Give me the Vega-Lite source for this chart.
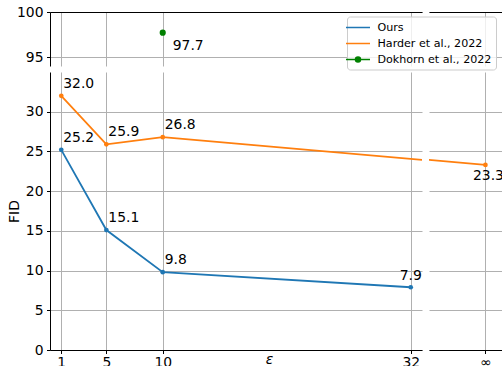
{
  "$schema": "https://vega.github.io/schema/vega-lite/v6.json",
  "padding": {"left": 7, "top": 5, "right": 0, "bottom": 0},
  "datasets": {
    "d": [
      {"series": "Ours", "eps": 1, "fid": 25.2},
      {"series": "Ours", "eps": 5, "fid": 15.1},
      {"series": "Ours", "eps": 10, "fid": 9.8},
      {"series": "Ours", "eps": 32, "fid": 7.9},
      {"series": "Harder et al., 2022", "eps": 1, "fid": 32.0},
      {"series": "Harder et al., 2022", "eps": 5, "fid": 25.9},
      {"series": "Harder et al., 2022", "eps": 10, "fid": 26.8},
      {"series": "Harder et al., 2022", "eps": 38, "fid": 23.3},
      {"series": "Dokhorn et al., 2022", "eps": 10, "fid": 97.7}
    ]
  },
  "data": {"name": "d"},
  "bounds": "flush",
  "columns": 2,
  "spacing": {"row": 6, "column": 7},
  "concat": [
    {
      "width": 372, "height": 54,
      "encoding": {
        "x": {"field": "eps", "type": "quantitative", "scale": {"domain": [0, 33], "nice": false, "zero": false},
              "axis": {"orient": "top", "values": [1, 5, 10, 32], "labels": false, "ticks": false, "domain": true, "grid": true, "title": null}},
        "y": {"field": "fid", "type": "quantitative", "scale": {"domain": [94, 100], "nice": false, "zero": false},
              "axis": {"orient": "left", "values": [95, 100], "grid": true, "domain": true, "ticks": true, "labels": true, "title": null, "labelPadding": 3.5}}
      },
      "layer": [
        {"mark": {"type": "point", "filled": true, "opacity": 0, "clip": true},
         "encoding": {
           "color": {"field": "series", "type": "nominal",
             "scale": {"domain": ["Ours", "Harder et al., 2022", "Dokhorn et al., 2022"], "range": ["#1f77b4", "#ff7f0e", "#008000"]},
             "legend": {"orient": "none", "legendX": 297, "legendY": 4.5, "title": null, "direction": "vertical",
               "labelFont": "DejaVu Sans", "labelFontSize": 11.1, "labelColor": "#000", "labelOffset": 12.5,
               "symbolSize": 144, "symbolStrokeWidth": 1.5, "symbolOpacity": 1,
               "encode": {"symbols": {"update": {"fill": {"scale": "color", "field": "value"}, "stroke": {"scale": "color", "field": "value"}, "opacity": {"value": 1}}}}}},
           "shape": {"field": "series", "type": "nominal",
             "scale": {"domain": ["Ours", "Harder et al., 2022", "Dokhorn et al., 2022"],
                       "range": ["M-2,0H2", "M-2,0H2", "M-2,0H2M0.42,0A0.42,0.42,0,1,1,-0.42,0A0.42,0.42,0,1,1,0.42,0Z"]},
             "legend": {"orient": "none", "legendX": 297, "legendY": 4.5, "title": null, "direction": "vertical",
               "labelFont": "DejaVu Sans", "labelFontSize": 11.1, "labelColor": "#000", "labelOffset": 12.5,
               "symbolSize": 144, "symbolStrokeWidth": 1.5, "symbolOpacity": 1,
               "encode": {"symbols": {"update": {"fill": {"scale": "color", "field": "value"}, "stroke": {"scale": "color", "field": "value"}, "opacity": {"value": 1}}}}}}
         }},
        {"mark": {"type": "line", "clip": true, "strokeWidth": 1.8},
         "encoding": {"color": {"field": "series", "type": "nominal"}}},
        {"transform": [{"filter": "datum.series != 'Dokhorn et al., 2022'"}],
         "mark": {"type": "point", "filled": true, "opacity": 1, "size": 22, "clip": true},
         "encoding": {"color": {"field": "series", "type": "nominal"}}},
        {"transform": [{"filter": "datum.series == 'Dokhorn et al., 2022'"}],
         "mark": {"type": "point", "filled": true, "opacity": 1, "size": 38, "clip": true},
         "encoding": {"color": {"field": "series", "type": "nominal"}}},
        {"transform": [{"filter": "datum.series == 'Dokhorn et al., 2022'"}],
         "mark": {"type": "text", "clip": true, "align": "left", "baseline": "alphabetic", "dx": 10, "dy": 17, "fontSize": 13.9, "font": "DejaVu Sans", "color": "#000"},
         "encoding": {"text": {"field": "fid", "type": "quantitative", "format": ".1f"}}}
      ]
    },
    {
      "width": 79, "height": 54,
      "encoding": {
        "x": {"field": "eps", "type": "quantitative", "scale": {"domain": [33, 40], "nice": false, "zero": false},
              "axis": {"orient": "top", "values": [38], "labels": false, "ticks": false, "domain": true, "grid": true, "title": null}},
        "y": {"field": "fid", "type": "quantitative", "scale": {"domain": [94, 100], "nice": false, "zero": false},
              "axis": {"values": [95, 100], "grid": true, "domain": false, "ticks": false, "labels": false, "title": null}}
      },
      "layer": [
        {"mark": {"type": "line", "clip": true, "strokeWidth": 1.8},
         "encoding": {"color": {"field": "series", "type": "nominal"}}},
        {"transform": [{"filter": "datum.series != 'Dokhorn et al., 2022'"}],
         "mark": {"type": "point", "filled": true, "opacity": 1, "size": 22, "clip": true},
         "encoding": {"color": {"field": "series", "type": "nominal"}}}
      ]
    },
    {
      "width": 372, "height": 278,
      "encoding": {
        "x": {"field": "eps", "type": "quantitative", "scale": {"domain": [0, 33], "nice": false, "zero": false},
              "axis": {"orient": "bottom", "values": [1, 5, 10, 32], "grid": true, "domain": true, "ticks": true, "labels": true,
                       "title": "ε", "titleFontStyle": "italic", "titleX": 219, "titleY": 13.3, "titleAlign": "center", "titleBaseline": "alphabetic", "labelPadding": 2}},
        "y": {"field": "fid", "type": "quantitative", "scale": {"domain": [0, 35], "nice": false, "zero": false},
              "axis": {"orient": "left", "values": [0, 5, 10, 15, 20, 25, 30], "grid": true, "domain": true, "ticks": true, "labels": true,
                       "title": "FID", "minExtent": 24, "maxExtent": 24, "titlePadding": 7.5, "titleBaseline": "alphabetic", "labelPadding": 3.5}}
      },
      "layer": [
        {"mark": {"type": "line", "clip": true, "strokeWidth": 1.8},
         "encoding": {"color": {"field": "series", "type": "nominal"}}},
        {"transform": [{"filter": "datum.series != 'Dokhorn et al., 2022'"}],
         "mark": {"type": "point", "filled": true, "opacity": 1, "size": 22, "clip": true},
         "encoding": {"color": {"field": "series", "type": "nominal"}}},
        {"transform": [{"filter": "datum.series != 'Dokhorn et al., 2022' && datum.eps <= 10"}],
         "mark": {"type": "text", "clip": true, "align": "left", "baseline": "alphabetic", "dx": 2, "dy": -8, "fontSize": 13.9, "font": "DejaVu Sans", "color": "#000"},
         "encoding": {"text": {"field": "fid", "type": "quantitative", "format": ".1f"}}},
        {"transform": [{"filter": "datum.eps == 32"}],
         "mark": {"type": "text", "clip": true, "align": "center", "baseline": "alphabetic", "dx": 0, "dy": -7, "fontSize": 13.9, "font": "DejaVu Sans", "color": "#000"},
         "encoding": {"text": {"field": "fid", "type": "quantitative", "format": ".1f"}}}
      ]
    },
    {
      "width": 79, "height": 278,
      "encoding": {
        "x": {"field": "eps", "type": "quantitative", "scale": {"domain": [33, 40], "nice": false, "zero": false},
              "axis": {"orient": "bottom", "values": [38], "labelExpr": "'∞'", "grid": true, "domain": true, "ticks": true, "labels": true, "title": null, "labelPadding": 2}},
        "y": {"field": "fid", "type": "quantitative", "scale": {"domain": [0, 35], "nice": false, "zero": false},
              "axis": {"values": [0, 5, 10, 15, 20, 25, 30], "grid": true, "domain": false, "ticks": false, "labels": false, "title": null}}
      },
      "layer": [
        {"mark": {"type": "line", "clip": true, "strokeWidth": 1.8},
         "encoding": {"color": {"field": "series", "type": "nominal"}}},
        {"transform": [{"filter": "datum.series != 'Dokhorn et al., 2022'"}],
         "mark": {"type": "point", "filled": true, "opacity": 1, "size": 22, "clip": true},
         "encoding": {"color": {"field": "series", "type": "nominal"}}},
        {"transform": [{"filter": "datum.eps == 38"}],
         "mark": {"type": "text", "clip": true, "align": "center", "baseline": "top", "dx": 3, "dy": 4, "fontSize": 13.9, "font": "DejaVu Sans", "color": "#000"},
         "encoding": {"text": {"field": "fid", "type": "quantitative", "format": ".1f"}}}
      ]
    }
  ],
  "config": {
    "font": "DejaVu Sans",
    "view": {"stroke": null},
    "legend": {
      "orient": "none", "legendX": 297, "legendY": 4.5,
      "fillColor": "rgba(255,255,255,0.8)", "strokeColor": "#cccccc", "cornerRadius": 3, "padding": 4, "rowPadding": 3,
      "labelFont": "DejaVu Sans", "labelFontSize": 11.1, "labelColor": "#000", "labelOffset": 12.5, "labelLimit": 300,
      "symbolSize": 144, "symbolStrokeWidth": 1.5, "symbolOpacity": 1
    },
    "axis": {
      "gridColor": "#b0b0b0", "gridWidth": 1, "gridOpacity": 1,
      "domainColor": "#000", "domainWidth": 1,
      "tickColor": "#000", "tickWidth": 1, "tickSize": 3.5,
      "labelFont": "DejaVu Sans", "labelFontSize": 13.9, "labelColor": "#000",
      "labelFlush": false, "labelOverlap": false, "labelBound": false,
      "titleFont": "DejaVu Sans", "titleFontSize": 13.9, "titleFontWeight": "normal", "titleColor": "#000"
    }
  }
}
